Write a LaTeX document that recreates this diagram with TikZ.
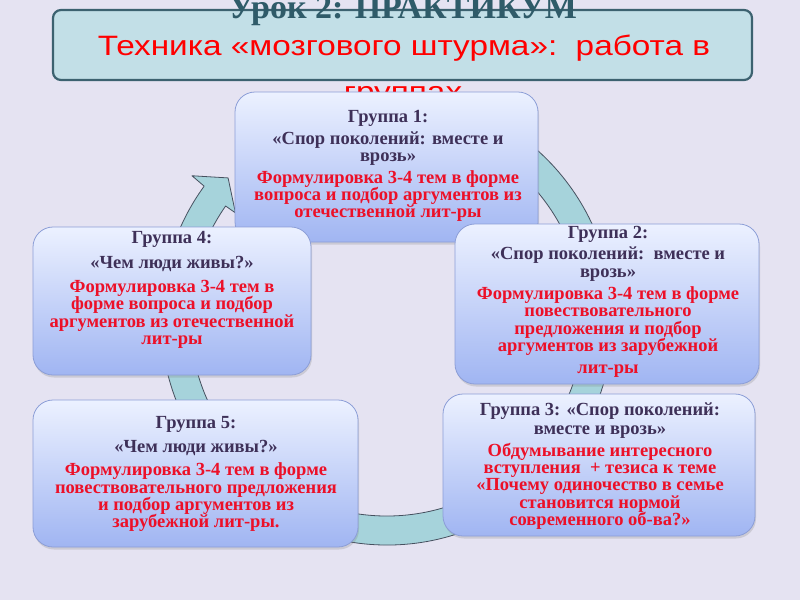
\documentclass[tikz,border=0pt]{standalone}
\usepackage{fontspec}
\setmainfont{Liberation Serif}
\newfontfamily\topicfont[FakeStretch=1.19]{Liberation Sans}
\usepackage{xcolor}
\usepackage{tikz}
\usetikzlibrary{shadows}

\definecolor{bgpage}{RGB}{229,227,242}
\definecolor{ttlfill}{RGB}{194,223,231}
\definecolor{ttlline}{RGB}{60,98,112}
\definecolor{ttldark}{RGB}{47,91,105}
\definecolor{grptop}{RGB}{236,241,255}
\definecolor{grpbot}{RGB}{160,181,242}
\definecolor{grpline}{RGB}{140,158,215}
\definecolor{grphead}{RGB}{62,48,88}
\definecolor{grptask}{RGB}{236,16,40}
\definecolor{ringfill}{RGB}{166,211,219}
\definecolor{ringline}{RGB}{70,80,95}

\newcommand{\gh}[1]{\textcolor{grphead}{#1}}

\begin{document}
\begin{tikzpicture}[
  x=1pt, y=-1pt,
  ttlbox/.style={draw=ttlline, line width=2.2pt, rounded corners=8pt, fill=ttlfill,
                 minimum width=699pt, minimum height=70pt, inner sep=0pt},
  grp/.style={draw=grpline, line width=0.8pt, rounded corners=20pt, inner sep=0pt,
              top color=grptop, bottom color=grpbot,
              drop shadow={shadow xshift=1pt, shadow yshift=-2.5pt, opacity=0.25}},
  grptxt/.style={align=center, inner sep=0pt, text=grptask,
                 font=\fontsize{18.5}{17.3}\selectfont\bfseries},
  ring/.style={fill=ringfill, draw=ringline, line width=0.8pt, line join=round}
]
\useasboundingbox (0,0) rectangle (800,600);
\clip (0,0) rectangle (800,600);
\fill[bgpage] (0,0) rectangle (800,600);

% title
\node[ttlbox] (ttl) at (402.5,45) {};
\node[anchor=base, inner sep=0pt, text=ttldark, font=\fontsize{34}{34}\selectfont\bfseries]
  (lesson) at (403,18) {Урок 2: ПРАКТИКУМ};
\node[anchor=base, inner sep=0pt, text=red, font=\topicfont\fontsize{28}{28}\selectfont]
  (topic) at (404,55) {Техника «мозгового штурма»:\ \ работа в};
\node[anchor=base, inner sep=0pt, text=red, font=\topicfont\fontsize{28}{28}\selectfont]
  (topicb) at (403,101) {группах};

% cycle arrow behind the groups
\begin{scope}[shift={(387,319)}]
  \path[ring] (-80:226) arc[start angle=-80, end angle=216, radius=226]
    -- (216.3:242) -- (221.6:212.5) -- (215:185) -- (215:197)
    arc[start angle=215, end angle=-80, radius=197] -- cycle;
\end{scope}

% groups
\node[grp, minimum width=303pt, minimum height=150pt] (g1) at (386.5,167) {};
\node[grp, minimum width=304pt, minimum height=160pt] (g2) at (607,304) {};
\node[grp, minimum width=312pt, minimum height=142pt] (g3) at (599,465) {};
\node[grp, minimum width=278pt, minimum height=148pt] (g4) at (172,301) {};
\node[grp, minimum width=325pt, minimum height=147pt] (g5) at (195.5,473.5) {};

\node[grptxt] (g1t) at (388,166) {\gh{Группа 1:}\\[5pt]
  \gh{«Спор поколений: вместе и}\\\gh{врозь»}\\[4pt]
  Формулировка 3-4 тем в форме\\вопроса и подбор аргументов из\\отечественной лит-ры};
\node[grptxt] (g2t) at (608,302) {\gh{Группа 2:}\\[4pt]
  \gh{«Спор поколений:\ \ вместе и}\\\gh{врозь»}\\[5pt]
  Формулировка 3-4 тем в форме\\повествовательного\\предложения и подбор\\
  аргументов из зарубежной\\[5pt]лит-ры};
\node[grptxt] (g3t) at (600,466) {\gh{Группа 3: «Спор поколений:}\\[2pt]
  \gh{вместе и врозь»}\\[4pt]
  Обдумывание интересного\\вступления\ \ + тезиса к теме\\«Почему одиночество в семье\\
  становится нормой\\современного об-ва?»};
\node[grptxt] (g4t) at (172,290) {\gh{Группа 4:}\\[7pt]
  \gh{«Чем люди живы?»}\\[7pt]
  Формулировка 3-4 тем в\\форме вопроса и подбор\\аргументов из отечественной\\лит-ры};
\node[grptxt] (g5t) at (196,474) {\gh{Группа 5:}\\[7pt]
  \gh{«Чем люди живы?»}\\[6pt]
  Формулировка 3-4 тем в форме\\повествовательного предложения\\и подбор аргументов из\\зарубежной лит-ры.};
\end{tikzpicture}
\end{document}
